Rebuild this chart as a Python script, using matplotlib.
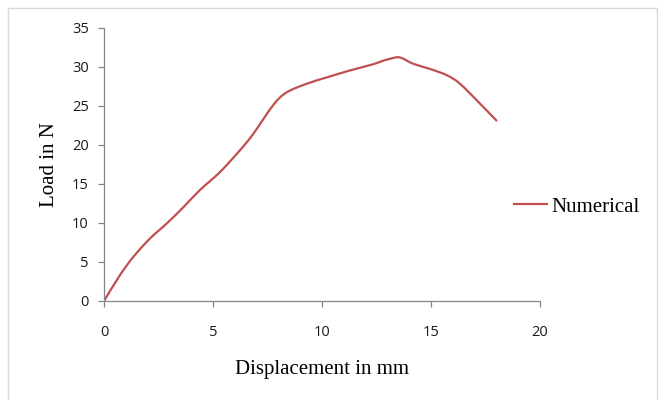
import matplotlib
matplotlib.use('Agg')
import numpy as np
import matplotlib.pyplot as plt
from matplotlib.patches import Rectangle, PathPatch
from matplotlib.path import Path
from matplotlib.lines import Line2D

# displacement (mm) vs load (N)
disp = [0, 0.73, 1.35, 2.11, 2.87, 3.64, 4.4, 5.32, 6.24, 6.85, 7.77, 8.38,
        9.3, 10.2, 11.28, 12.35, 12.8, 13.27, 13.5, 13.73, 14.19, 14.95, 15.72,
        16.33, 17.25, 18.0]
load = [0, 3.3, 5.66, 8.0, 9.9, 12.0, 14.2, 16.5, 19.3, 21.4, 25.1, 26.7,
        27.8, 28.6, 29.5, 30.3, 30.75, 31.1, 31.2, 31.0, 30.35, 29.7, 28.9,
        27.8, 25.25, 23.1]
series_name = 'Numerical'
xticks = [0, 5, 10, 15, 20]
yticks = [0, 5, 10, 15, 20, 25, 30, 35]
red = '#C0504D'

fig = plt.figure(figsize=(6.59, 4.0), dpi=100)
ax = fig.add_axes([104/659, 1-301/400, 436/659, 273.5/400])

# smoothed line like Excel's "smoothed line" option (Catmull-Rom -> Bezier)
pts = np.column_stack([disp, load])
verts = [pts[0]]
codes = [Path.MOVETO]
n = len(pts)
for i in range(n - 1):
    p0 = pts[max(i - 1, 0)]
    p1 = pts[i]
    p2 = pts[i + 1]
    p3 = pts[min(i + 2, n - 1)]
    verts += [p1 + (p2 - p0) / 6, p2 - (p3 - p1) / 6, p2]
    codes += [Path.CURVE4] * 3
ax.add_patch(PathPatch(Path(verts, codes), fill=False, edgecolor=red, lw=1.6,
                       joinstyle='round', capstyle='round'))

ax.set_xlim(0, 20)
ax.set_ylim(0, 35)
ax.set_xticks(xticks)
ax.set_yticks(yticks)
for s in ['top', 'right']:
    ax.spines[s].set_visible(False)
for s in ['left', 'bottom']:
    ax.spines[s].set_color('#868686')
    ax.spines[s].set_linewidth(0.9)
ax.tick_params(direction='out', length=4, width=0.9, color='#868686',
               labelsize=10.5, labelcolor='#1a1a1a')
for lab in ax.get_xticklabels() + ax.get_yticklabels():
    lab.set_family('Open Sans')
ax.tick_params(axis='x', pad=13)
ax.tick_params(axis='y', pad=7)

ax.set_xlabel('Displacement in mm', family='Liberation Serif', fontsize=15, labelpad=15)
ax.set_ylabel('Load in N', family='Liberation Serif', fontsize=15, labelpad=9)

handle = Line2D([], [], color=red, lw=1.6)
fig.legend(handles=[handle], labels=[series_name], loc='center left',
           bbox_to_anchor=(495/659, 1-207/400),
           frameon=False, handlelength=1.6, handletextpad=0.2,
           prop={'family': 'Liberation Serif', 'size': 15})

fig.patches.append(Rectangle((8/659, -0.01), 649/659, 1.01-8/400, transform=fig.transFigure,
                             fill=False, edgecolor='#D9D9D9', lw=1))

fig.savefig('out.png', dpi=100)
